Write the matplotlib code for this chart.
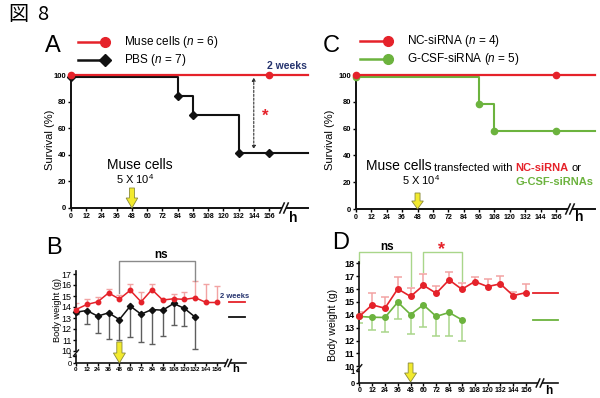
import numpy as np
import matplotlib
matplotlib.use("Agg")
import matplotlib.pyplot as plt
from matplotlib import transforms
from matplotlib.patches import Polygon, Rectangle

plt.rcParams['font.family'] = ['Liberation Sans', 'DejaVu Sans']
plt.rcParams['mathtext.fontset'] = 'custom'
plt.rcParams['mathtext.rm'] = 'Liberation Sans'
plt.rcParams['mathtext.it'] = 'Liberation Sans:italic'
plt.rcParams['mathtext.bf'] = 'Liberation Sans:bold'

# ---------------- data ----------------
hour_ticks = list(range(0, 157, 12))
hour_tick_labels = [str(h) for h in hour_ticks]
surv_ticks = [0, 20, 40, 60, 80, 100]

# A: survival (Muse vs PBS)
muse_times = [0, 156]
muse_surv = [100, 100]
pbs_times = [0, 84, 96, 132, 156]
pbs_surv = [100, 85.7, 71.4, 42.9, 42.9]
a_legend = ["Muse cells ($\\mathit{n}$ = 6)", "PBS ($\\mathit{n}$ = 7)"]

# C: survival (NC-siRNA vs G-CSF-siRNA)
nc_times = [0, 156]
nc_surv = [100, 100]
gcsf_times = [0, 96, 108, 156]
gcsf_surv = [100, 80, 60, 60]
c_legend = ["NC-siRNA ($\\mathit{n}$ = 4)", "G-CSF-siRNA ($\\mathit{n}$ = 5)"]

# B: body weight
b_hours_muse = list(range(0, 157, 12))
b_muse = [13.77, 14.23, 14.47, 15.28, 14.72, 15.52, 14.47, 15.58, 14.63, 14.75, 14.69, 14.84, 14.41, 14.41]
b_muse_upper = [14.38, 14.75, 14.87, 15.66, 15.10, 16.06, 15.38, 16.08, 14.72, 15.14, 15.38, 16.35, 16.10, 15.95]
b_hours_pbs = list(range(0, 133, 12))
b_pbs = [13.53, 13.68, 13.17, 13.47, 12.86, 14.08, 13.35, 13.77, 13.71, 14.32, 13.87, 13.07]
b_pbs_lower = [13.35, 12.44, 11.68, 11.13, 11.04, 11.28, 10.85, 10.61, 11.34, 12.40, 12.25, 10.21]
b_2w_muse, b_2w_pbs = 14.45, 13.10
b_ticks = list(range(10, 18))

# D: body weight
d_hours_nc = list(range(0, 157, 12))
d_nc = [13.87, 14.77, 14.51, 16.01, 15.42, 16.29, 15.67, 16.71, 15.98, 16.58, 16.19, 16.40, 15.49, 15.72]
d_nc_upper = [14.25, 15.67, 15.36, 16.91, 16.06, 17.17, 16.27, 17.30, 16.45, 16.97, 16.76, 17.04, 15.80, 16.42]
d_hours_gcsf = list(range(0, 97, 12))
d_gcsf = [13.87, 13.81, 13.79, 14.98, 14.02, 14.77, 13.87, 14.18, 13.61]
d_gcsf_lower = [13.35, 12.78, 12.65, 13.68, 12.48, 13.04, 12.35, 12.35, 11.94]
d_2w_nc, d_2w_gcsf = 15.69, 13.60
d_ticks = list(range(10, 19))

# ---------------- style ----------------
RED = '#e5222a'
BLACK = '#111111'
GREEN = '#6cb33e'
NAVY = '#25336e'
PINK = '#f2a3a3'
LGREEN = '#a9d68a'
GRAYBAR = '#5e5e5e'
GRAY = '#8a8a8a'
YELLOW = '#f2ea2e'

W, H = 600, 398
fig = plt.figure(figsize=(W / 100, H / 100), dpi=100)


def px_axes(x0, ytop, x1, ybot):
    return fig.add_axes([x0 / W, (H - ybot) / H, (x1 - x0) / W, (ybot - ytop) / H])


def base_style(ax, lw=1.3):
    for s in ['top', 'right']:
        ax.spines[s].set_visible(False)
    for s in ['left', 'bottom']:
        ax.spines[s].set_linewidth(lw)
        ax.spines[s].set_color(BLACK)
    ax.patch.set_alpha(0)


def surv_axes(x0, x156, x1, y0, y100, ytop, xlabsize=5):
    ax = px_axes(x0, ytop, x1, y0)
    pph = (x156 - x0) / 156.0
    xmax = (x1 - x0) / pph
    ax.set_xlim(0, xmax)
    ax.set_ylim(0, 100 * (y0 - ytop) / (y0 - y100))
    base_style(ax, 1.4)
    ax.spines['left'].set_bounds(0, 101)
    ax.set_xticks(hour_ticks)
    ax.set_xticklabels(hour_tick_labels, fontsize=xlabsize, fontweight='bold')
    ax.set_yticks(surv_ticks)
    ax.set_yticklabels([str(v) for v in surv_ticks], fontsize=5.5, fontweight='bold')
    ax.tick_params(axis='both', length=2.2, width=1, pad=1.2)
    return ax, xmax


# ---------------- Panel A ----------------
axA, a_xmax = surv_axes(71, 269, 308, 208, 75, 68)
axA.step(muse_times + [a_xmax], muse_surv + [muse_surv[-1]], where='post',
         color=RED, lw=1.6, clip_on=False, zorder=4)
axA.plot(muse_times, muse_surv, 'o', color=RED, ms=4.5, clip_on=False, zorder=5)
offA = transforms.offset_copy(axA.transData, fig=fig, x=0, y=-2.2, units='dots')
axA.step(pbs_times + [a_xmax], pbs_surv + [pbs_surv[-1]], where='post',
         color=BLACK, lw=1.5, clip_on=False, transform=offA, zorder=3)
axA.plot(pbs_times, pbs_surv, 'D', color=BLACK, ms=4.0, clip_on=False,
         transform=offA, zorder=3)
axA.annotate('', xy=(144, pbs_surv[-1] + 1.2), xytext=(144, 98.2),
             arrowprops=dict(arrowstyle='<|-|>', ls=(0, (2, 1.5)), color='#333333',
                             lw=0.8, mutation_scale=5, shrinkA=0, shrinkB=0),
             annotation_clip=False)

# ---------------- Panel C ----------------
axC, c_xmax = surv_axes(356, 556, 595, 209, 75, 68)
axC.step(nc_times + [c_xmax], nc_surv + [nc_surv[-1]], where='post',
         color=RED, lw=1.6, clip_on=False, zorder=4)
axC.plot(nc_times, nc_surv, 'o', color=RED, ms=4.5, clip_on=False, zorder=5)
offC = transforms.offset_copy(axC.transData, fig=fig, x=0, y=-2.2, units='dots')
axC.step(gcsf_times + [c_xmax], gcsf_surv + [gcsf_surv[-1]], where='post',
         color=GREEN, lw=1.5, clip_on=False, transform=offC, zorder=3)
axC.plot(gcsf_times, gcsf_surv, 'o', color=GREEN, ms=4.5, clip_on=False,
         transform=offC, zorder=3)


# ---------------- body weight axes ----------------
def bw_axes(x0, x156, x1, y10, ypx_per_g, ytop, ticks, lower_top, lower_bot,
            unit_px, ylabsize, ylabweight, xlabsize):
    pph = (x156 - x0) / 156.0
    xmax = (x1 - x0) / pph
    ax = px_axes(x0, ytop, x1, y10)
    ax.set_xlim(0, xmax)
    ax.set_ylim(10, 10 + (y10 - ytop) / ypx_per_g)
    base_style(ax, 1.2)
    ax.spines['bottom'].set_visible(False)
    ax.set_xticks([])
    ax.set_yticks(ticks)
    ax.set_yticklabels([str(t) for t in ticks], fontsize=ylabsize, fontweight=ylabweight)
    ax.tick_params(axis='y', length=2.2, width=1, pad=1.2)
    axl = px_axes(x0, lower_top, x1, lower_bot)
    axl.set_xlim(0, xmax)
    axl.set_ylim(0, (lower_bot - lower_top) / unit_px)
    base_style(axl, 1.2)
    axl.spines['bottom'].set_bounds(0, xmax)
    axl.set_yticks([0, 1])
    axl.set_yticklabels(['0', '1'], fontsize=ylabsize - 1, fontweight=ylabweight)
    axl.set_xticks(hour_ticks)
    axl.set_xticklabels(hour_tick_labels, fontsize=xlabsize, fontweight='bold')
    axl.tick_params(axis='both', length=2, width=1, pad=1.0)
    return ax, axl, xmax


# ---------------- Panel B ----------------
axB, axBl, b_xmax = bw_axes(76, 217, 246, 351, 11.0, 271, b_ticks, 355, 363, 7.0,
                            6.5, 'normal', 4.5)

axB.vlines(b_hours_muse, b_muse, b_muse_upper, colors=PINK, lw=1.0, zorder=2)
axB.plot(b_hours_muse, b_muse_upper, ls='none', marker='_', ms=5, mew=1.0, color=PINK, zorder=2)
axB.vlines(b_hours_pbs, b_pbs_lower, b_pbs, colors=GRAYBAR, lw=1.0, zorder=2)
axB.plot(b_hours_pbs, b_pbs_lower, ls='none', marker='_', ms=5, mew=1.0, color=GRAYBAR, zorder=2)
axB.plot(b_hours_pbs, b_pbs, color=BLACK, lw=1.1, marker='D', ms=3.2, zorder=3, clip_on=False)
axB.plot(b_hours_muse, b_muse, color=RED, lw=1.1, marker='o', ms=3.2, zorder=4, clip_on=False)
axB.plot([169, 187], [b_2w_muse] * 2, color=RED, lw=1.3, clip_on=False)
axB.plot([169, 187], [b_2w_pbs] * 2, color=BLACK, lw=1.3, clip_on=False)
b_br = 18.18
axB.plot([48, 48, 132, 132], [b_muse_upper[4] + 0.17, b_br, b_br, b_muse_upper[11] + 0.05],
         color=GRAY, lw=1.0, clip_on=False)

# ---------------- Panel D ----------------
axD, axDl, d_xmax = bw_axes(359.3, 526, 558, 366.3, 12.88, 262, d_ticks, 369, 383, 12.0,
                            6.5, 'bold', 5)

axD.vlines(d_hours_nc, d_nc, d_nc_upper, colors=PINK, lw=1.1, zorder=2)
axD.plot(d_hours_nc, d_nc_upper, ls='none', marker='_', ms=6, mew=1.1, color=PINK, zorder=2)
axD.vlines(d_hours_gcsf, d_gcsf_lower, d_gcsf, colors=LGREEN, lw=1.1, zorder=2)
axD.plot(d_hours_gcsf, d_gcsf_lower, ls='none', marker='_', ms=6, mew=1.1, color=LGREEN, zorder=2)
axD.plot(d_hours_gcsf, d_gcsf, color=GREEN, lw=1.2, marker='o', ms=4, zorder=3, clip_on=False)
axD.plot(d_hours_nc, d_nc, color=RED, lw=1.2, marker='o', ms=4, zorder=4, clip_on=False)
axD.plot([163, 186.2], [d_2w_nc] * 2, color=RED, lw=1.3, clip_on=False)
axD.plot([163, 186.2], [d_2w_gcsf] * 2, color=GREEN, lw=1.3, clip_on=False)
d_br = 18.88
axD.plot([0, 0, 48, 48], [18.0, d_br, d_br, d_nc_upper[4] + 0.15],
         color=LGREEN, lw=1.0, clip_on=False, zorder=1)
axD.plot([60, 60, 96, 96], [d_nc_upper[5] + 0.15, d_br, d_br, d_nc_upper[8] + 0.15],
         color=LGREEN, lw=1.0, clip_on=False, zorder=1)

# ---------------- overlay (pixel coordinates) ----------------
ov = fig.add_axes([0, 0, 1, 1])
ov.set_xlim(0, W)
ov.set_ylim(H, 0)
ov.axis('off')


def px_x(ax, h):
    return ax.transData.transform((h, 0))[0]


def block_arrow(x, ytop, ytip, shaft_hw=2.5, head_hw=6, head_len=10):
    yh = ytip - head_len
    pts = [(x - shaft_hw, ytop), (x + shaft_hw, ytop), (x + shaft_hw, yh),
           (x + head_hw, yh), (x, ytip), (x - head_hw, yh), (x - shaft_hw, yh)]
    ov.add_patch(Polygon(pts, closed=True, fc=YELLOW, ec='#8a8a3a', lw=0.6, zorder=6))


def x_break(x, y, s=5, gap=4):
    ov.add_patch(Rectangle((x - gap / 2, y - 2), gap, 4, fc='white', ec='none', zorder=5))
    for dx in (-gap / 2, gap / 2):
        ov.plot([x + dx - s * 0.45, x + dx + s * 0.45], [y + s, y - s], color=BLACK,
                lw=1.1, zorder=6)


def y_break(x, y):
    ov.plot([x - 2.5, x + 2.5], [y + 3, y - 3], color=BLACK, lw=1.0, zorder=6)


# title
ov.text(8, 15, '図', fontsize=14.5, family=['Noto Sans CJK JP'], va='center', ha='left')
ov.text(37, 15, '8', fontsize=14.5, family=['Noto Sans CJK JP', 'DejaVu Sans'], va='center', ha='left')

# panel letters
ov.text(53, 46, 'A', fontsize=17, ha='center', va='center')
ov.text(331, 46, 'C', fontsize=17, ha='center', va='center')
ov.text(54, 248, 'B', fontsize=17, ha='center', va='center')
ov.text(341, 243, 'D', fontsize=17, ha='center', va='center')

# legends
ov.plot([78, 108], [42, 42], color=RED, lw=1.8)
ov.plot([105], [42], 'o', color=RED, ms=7)
ov.plot([78, 108], [60, 60], color=BLACK, lw=1.8)
ov.plot([105], [60], 'D', color=BLACK, ms=6.5)
ov.text(124, 42, a_legend[0], fontsize=8.5, va='center', ha='left')
ov.text(124, 60, a_legend[1], fontsize=8.5, va='center', ha='left')

ov.plot([360, 392], [41, 41], color=RED, lw=1.8)
ov.plot([388], [41], 'o', color=RED, ms=7)
ov.plot([360, 392], [59, 59], color=GREEN, lw=1.8)
ov.plot([388], [59], 'o', color=GREEN, ms=7)
ov.text(407, 41, c_legend[0], fontsize=8.5, va='center', ha='left')
ov.text(407, 59, c_legend[1], fontsize=8.5, va='center', ha='left')

# y labels
ov.text(50, 140, 'Survival (%)', fontsize=8, rotation=90, ha='center', va='center')
ov.text(330, 140, 'Survival (%)', fontsize=8, rotation=90, ha='center', va='center')
ov.text(57, 310, 'Body weight (g)', fontsize=6.6, rotation=90, ha='center', va='center')
ov.text(333, 325, 'Body weight (g)', fontsize=7.5, rotation=90, ha='center', va='center')

# 2 weeks labels
ov.text(287, 66, '2 weeks', fontsize=7.5, fontweight='bold', color=NAVY, ha='center', va='center')
ov.text(235, 296, '2 weeks', fontsize=5.5, fontweight='bold', color=NAVY, ha='center', va='center')

# significance marks
ov.text(265.5, 116, '*', fontsize=12, fontweight='bold', color=RED, ha='center', va='center')
ov.text(161, 255, 'ns', fontsize=8.5, fontweight='bold', ha='center', va='center')
ov.text(387, 247, 'ns', fontsize=8.5, fontweight='bold', ha='center', va='center')
ov.text(442, 250, '*', fontsize=13, fontweight='bold', color=RED, ha='center', va='center')

# A annotation
ov.text(139.5, 169, 'Muse cells', fontsize=10, ha='center', va='baseline')
ov.text(135, 184, '5 X $\\mathregular{10^4}$', fontsize=8, ha='center', va='baseline')

# C annotation
t1 = ov.text(366, 170, 'Muse cells', fontsize=10, ha='left', va='baseline')
t2 = ov.annotate('transfected with', xy=(1, 0), xycoords=t1, xytext=(1.5, 0),
                 textcoords='offset points', fontsize=8, ha='left', va='bottom')
t3 = ov.annotate('NC-siRNA', xy=(1, 0), xycoords=t2, xytext=(2.4, 0),
                 textcoords='offset points', fontsize=8, fontweight='bold', color=RED,
                 ha='left', va='bottom')
t4 = ov.annotate('or', xy=(1, 0), xycoords=t3, xytext=(2.4, 0),
                 textcoords='offset points', fontsize=8, ha='left', va='bottom')
t5 = ov.annotate('G-CSF-siRNAs', xy=(0, 0), xycoords=t3, xytext=(0, -10.2),
                 textcoords='offset points', fontsize=8, fontweight='bold', color=GREEN,
                 ha='left', va='bottom')
ov.text(402, 185, '5 X $\\mathregular{10^4}$', fontsize=8, ha='left', va='baseline')

# yellow arrows at 48 h
block_arrow(px_x(axA, 48), 188, 208, 2.5, 5.8, 10)
block_arrow(px_x(axC, 48), 193, 209, 2.5, 5.8, 8)
block_arrow(px_x(axBl, 48), 342, 363, 2.6, 6.0, 10)
block_arrow(px_x(axDl, 48), 363, 382, 2.4, 6.0, 9)

# axis breaks and h labels
x_break(284, 208)
ov.text(293, 218, 'h', fontsize=10, fontweight='bold', ha='center', va='center')
x_break(570, 209)
ov.text(579, 217, 'h', fontsize=10, fontweight='bold', ha='center', va='center')
x_break(228, 363, 3.5, 3.5)
ov.text(236, 368.5, 'h', fontsize=8, fontweight='bold', ha='center', va='center')
x_break(540, 383, 4, 4)
ov.text(548.5, 391, 'h', fontsize=8.5, fontweight='bold', ha='center', va='center')
y_break(76, 353)
y_break(359.3, 367.7)

fig.savefig('out.png', dpi=100)
